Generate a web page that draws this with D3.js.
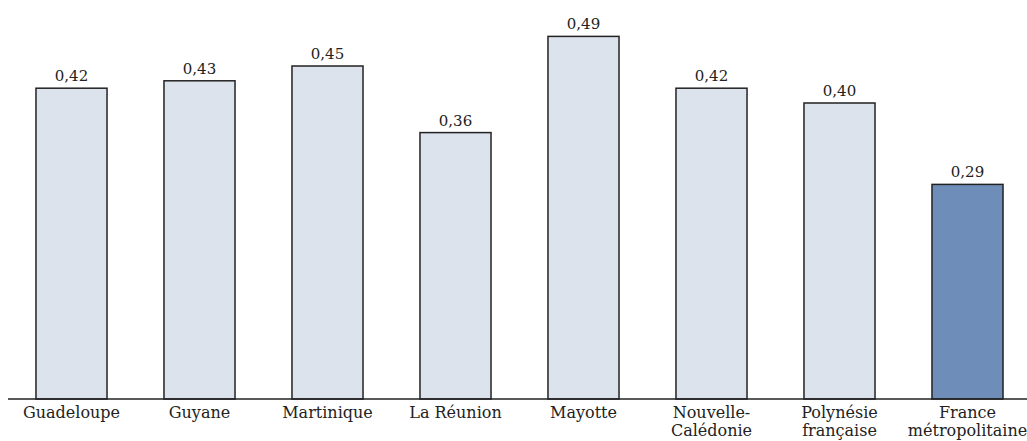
<!DOCTYPE html>
<html>
<head>
<meta charset="utf-8">
<script src="https://d3js.org/d3.v7.min.js"></script>
<style>
  body { margin: 0; background: #fff; }
  text { font-family: "DejaVu Serif", serif; fill: #222; }
</style>
</head>
<body>
<div id="chart"></div>
<script>
// data
const regions = ["Guadeloupe", "Guyane", "Martinique", "La Réunion", "Mayotte",
                 "Nouvelle-|Calédonie", "Polynésie|française", "France|métropolitaine"];
const values = [0.42, 0.43, 0.45, 0.36, 0.49, 0.42, 0.40, 0.29];
const highlight = ["France|métropolitaine"];

const width = 1027, height = 441;
const baseline = 399;

const svg = d3.select("#chart").append("svg")
  .attr("width", width)
  .attr("height", height);

const x = d3.scaleBand()
  .domain(regions)
  .range([7.5, 1031.5])
  .paddingInner(0.445)
  .paddingOuter(0.2225);

const y = d3.scaleLinear()
  .domain([0, 0.49])
  .range([baseline, 36.4]);

const fmt = v => d3.format(".2f")(v).replace(".", ",");

// bars
svg.selectAll(".bar")
  .data(regions)
  .enter().append("rect")
  .attr("class", "bar")
  .attr("x", d => x(d))
  .attr("y", (d, i) => y(values[i]))
  .attr("width", x.bandwidth())
  .attr("height", (d, i) => baseline - y(values[i]))
  .attr("fill", d => highlight.includes(d) ? "#6f8db9" : "#dde3ed")
  .attr("stroke", "#222")
  .attr("stroke-width", 1.5);

// value labels
svg.selectAll(".val")
  .data(regions)
  .enter().append("text")
  .attr("class", "val")
  .attr("x", d => x(d) + x.bandwidth() / 2)
  .attr("y", (d, i) => y(values[i]) - 7)
  .attr("text-anchor", "middle")
  .style("font-size", "15px")
  .text((d, i) => fmt(values[i]));

// baseline
svg.append("line")
  .attr("x1", 8).attr("x2", width)
  .attr("y1", baseline).attr("y2", baseline)
  .attr("stroke", "#222")
  .attr("stroke-width", 1.5);

// category labels, possibly on two lines
const labels = svg.selectAll(".cat")
  .data(regions)
  .enter().append("text")
  .attr("class", "cat")
  .attr("text-anchor", "middle")
  .style("font-size", "16px");

labels.selectAll("tspan")
  .data(d => d.split("|").map(s => ({ s, key: d })))
  .enter().append("tspan")
  .attr("x", d => x(d.key) + x.bandwidth() / 2)
  .attr("y", (d, i) => 418 + i * 18)
  .text(d => d.s);
</script>
</body>
</html>
